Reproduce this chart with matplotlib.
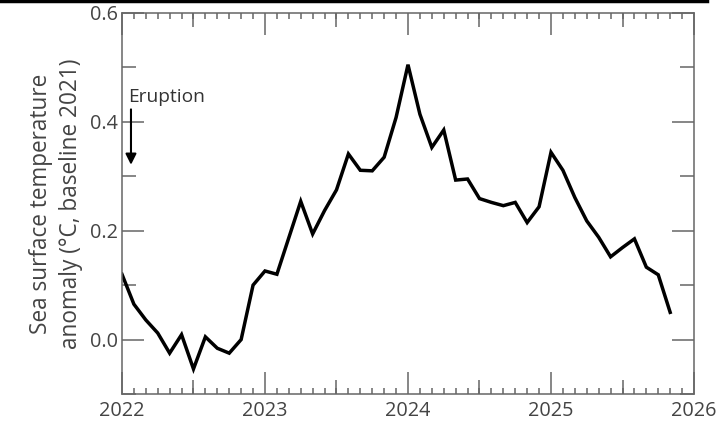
import numpy as np
import pandas as pd
import matplotlib
matplotlib.use("Agg")
import matplotlib.pyplot as plt
from matplotlib.lines import Line2D
from matplotlib.ticker import MultipleLocator

# Monthly SST anomaly (deg C, baseline 2021), Jan 2022 - Nov 2025
sst = [0.12, 0.065, 0.036, 0.012, -0.025, 0.009, -0.054, 0.005, -0.016, -0.025,
       0.0, 0.10, 0.126, 0.12, 0.187, 0.254, 0.194, 0.237, 0.275, 0.341,
       0.311, 0.31, 0.335, 0.408, 0.505, 0.414, 0.353, 0.385, 0.293, 0.295,
       0.259, 0.252, 0.246, 0.252, 0.215, 0.244, 0.344, 0.311, 0.261, 0.218,
       0.188, 0.152, 0.169, 0.185, 0.133, 0.119, 0.05]
start = "2022-01"
year_labels = ["2022", "2023", "2024", "2025", "2026"]
y_labels = ["0.0", "0.2", "0.4", "0.6"]

dates = pd.date_range(start, periods=len(sst), freq="MS")
t = dates.year + (dates.month - 1) / 12.0

plt.rcParams['font.family'] = ['Open Sans', 'DejaVu Sans']
grey = "#444444"
spine_c = "#666666"

fig = plt.figure(figsize=(7.2, 4.23), dpi=100)
ax = fig.add_axes([0.1694, 0.0686, 0.7945, 0.9007])

ax.plot(t, sst, color="black", lw=2.5, solid_joinstyle="miter")

ax.set_xlim(2022, 2026)
ax.set_ylim(-0.1, 0.6)

for s in ax.spines.values():
    s.set_color(spine_c)
    s.set_linewidth(1.1)

ax.xaxis.set_minor_locator(MultipleLocator(1 / 12))
ax.set_xticks(range(2022, 2027))
ax.set_xticklabels(year_labels)
ax.set_yticks([float(v) for v in y_labels])
ax.set_yticklabels(y_labels)
ax.yaxis.set_minor_locator(MultipleLocator(0.1))

ax.tick_params(which="both", direction="in", top=True, right=True,
               color=spine_c, width=1.1, labelcolor=grey, labelsize=14.3)
ax.tick_params(axis="x", which="major", length=15.5, pad=5)
ax.tick_params(axis="x", which="minor", length=4.5)
ax.tick_params(axis="y", which="major", length=15.5, pad=3)
ax.tick_params(axis="y", which="minor", length=10)

# half-year ticks, medium length
for side in ("top", "bottom"):
    sec = ax.secondary_xaxis(side)
    sec.set_xticks([2022.5, 2023.5, 2024.5, 2025.5])
    sec.tick_params(direction="in", length=10, width=1.1, color=spine_c,
                    labelbottom=False, labeltop=False)
    for s in sec.spines.values():
        s.set_visible(False)

ax.set_ylabel("Sea surface temperature\nanomaly (°C, baseline 2021)",
              fontsize=16.3, color=grey, linespacing=1.3, labelpad=5)

ax.annotate("", xy=(2022.063, 0.316), xytext=(2022.063, 0.428),
            arrowprops=dict(arrowstyle="-|>", color="black", lw=1.5,
                            mutation_scale=16))
ax.text(2022.04, 0.446, "Eruption", fontsize=13.8, color="#333333",
        ha="left", va="center")

fig.add_artist(Line2D([0, 0.982], [0.997, 0.997], color="black", lw=2.5,
                      transform=fig.transFigure))

fig.savefig("out.png", dpi=100)
